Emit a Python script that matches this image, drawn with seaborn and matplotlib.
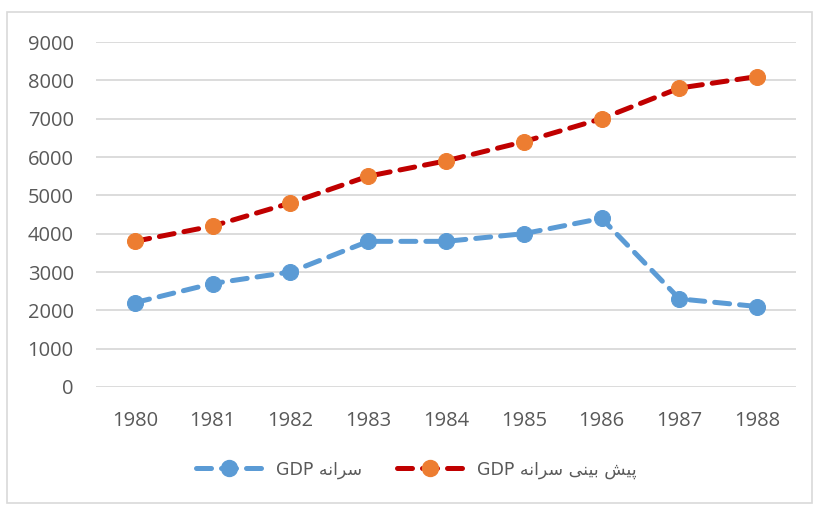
import numpy as np
import pandas as pd
import seaborn as sns
from matplotlib import pyplot as plt
from matplotlib.lines import Line2D
from matplotlib.patches import Rectangle

years = ['1980', '1981', '1982', '1983', '1984', '1985', '1986', '1987', '1988']
gdp_per_capita = [2200, 2700, 3000, 3800, 3800, 4000, 4400, 2300, 2100]
gdp_forecast = [3800, 4200, 4800, 5500, 5900, 6400, 7000, 7800, 8100]
y_ticks = [0, 1000, 2000, 3000, 4000, 5000, 6000, 7000, 8000, 9000]

# Persian labels, pre-shaped (presentation forms, visual order) since matplotlib has no bidi
label_gdp = 'GDP \uFEEA\uFEE7\uFE8D\uFEAE\uFEB3'
label_forecast = ('GDP \uFEEA\uFEE7\uFE8D\uFEAE\uFEB3 '
                  '\uFBFD\uFEE8\uFBFF\uFE91 \uFEB6\uFBFF\uFB58')

sns.set_style('white')
plt.rcParams['font.family'] = ['Open Sans', 'DejaVu Sans']

df = pd.DataFrame({'year': years, 'gdp': gdp_per_capita, 'forecast': gdp_forecast})
x = np.arange(len(years))
df['x'] = x

fig = plt.figure(figsize=(8.16, 5.05), dpi=100)
ax = fig.add_axes([0.1176, 0.2337, 0.858, 0.683])

blue = '#5B9BD5'
red = '#C00000'
orange = '#ED7D31'
dash = (0, (3, 2))

sns.lineplot(data=df, x='x', y='gdp', ax=ax, color=blue, linewidth=3.6,
             linestyle=dash, dash_capstyle='round', marker='o', markersize=11.5,
             markerfacecolor=blue, markeredgecolor=blue)
sns.lineplot(data=df, x='x', y='forecast', ax=ax, color=red, linewidth=3.6,
             linestyle=dash, dash_capstyle='round', marker='o', markersize=11.5,
             markerfacecolor=orange, markeredgecolor=orange)

ax.set_xlim(-0.5, len(years) - 0.5)
ax.set_ylim(0, 9000)
ax.set_yticks(y_ticks)
ax.set_xticks(x)
ax.set_xticklabels(years)
ax.set_xlabel('')
ax.set_ylabel('')
ax.yaxis.grid(True, color='#D9D9D9', linewidth=1.3)
ax.set_axisbelow(True)
for s in ax.spines.values():
    s.set_visible(False)
ax.tick_params(axis='both', length=0, labelsize=14.5, labelcolor='#595959')
ax.tick_params(axis='y', pad=16)
ax.tick_params(axis='x', pad=17)

handles = [
    Line2D([], [], color=blue, linewidth=3.6, linestyle=dash, dash_capstyle='round',
           marker='o', markersize=11.5, markerfacecolor=blue, markeredgecolor=blue),
    Line2D([], [], color=red, linewidth=3.6, linestyle=dash, dash_capstyle='round',
           marker='o', markersize=11.5, markerfacecolor=orange, markeredgecolor=orange),
]
fig.legend(handles, [label_gdp, label_forecast], loc='center', bbox_to_anchor=(0.51, 0.07),
           ncol=2, frameon=False, handlelength=3.8, columnspacing=2.0,
           prop={'family': ['DejaVu Sans'], 'size': 12.5}, labelcolor='#595959')

fig.patches.append(Rectangle((0.009, 0.004), 0.986, 0.972, transform=fig.transFigure,
                             fill=False, edgecolor='#D9D9D9', linewidth=1.2))

fig.savefig('out.png', dpi=100)
